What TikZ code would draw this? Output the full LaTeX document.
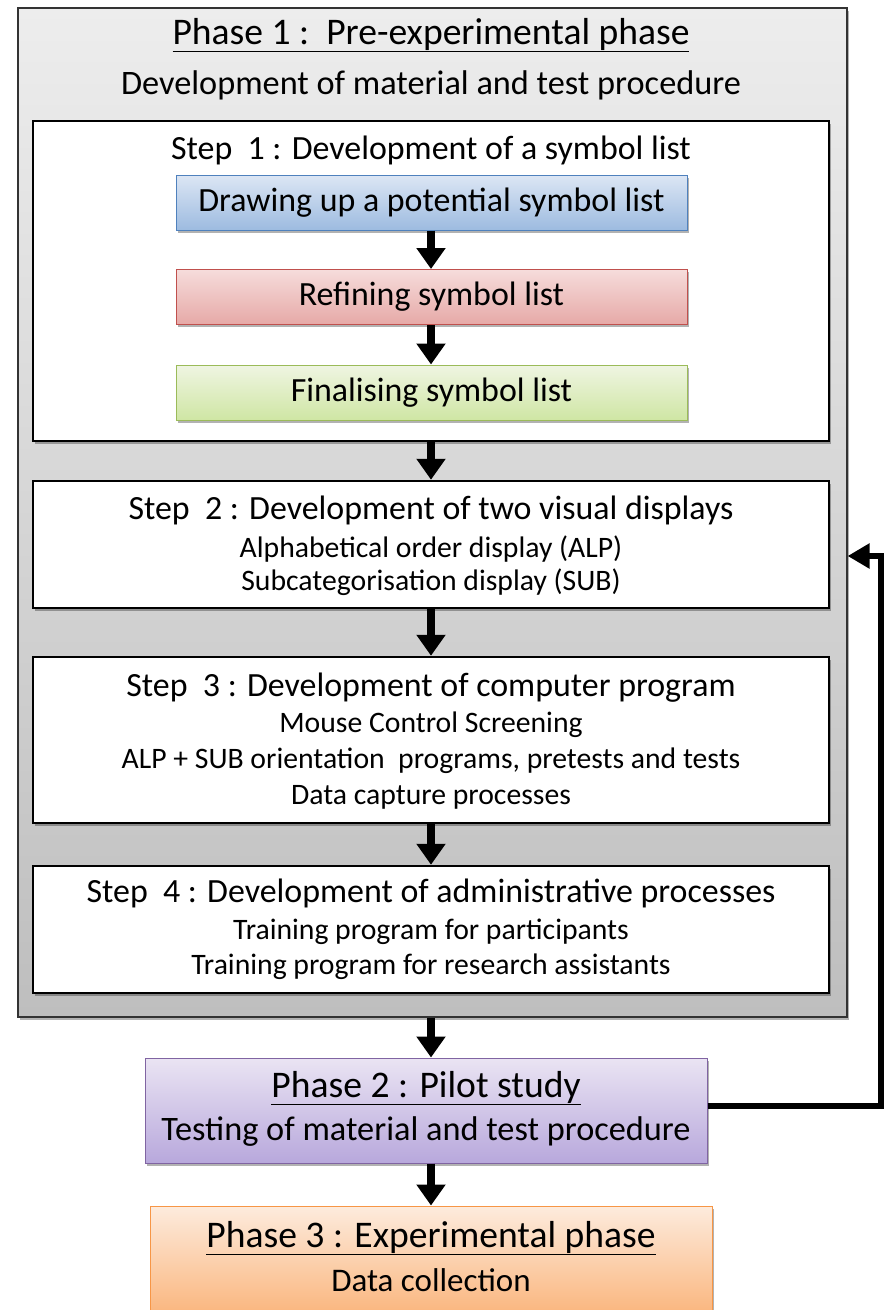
\documentclass[tikz,border=0pt]{standalone}
\usepackage{fontspec}
\setmainfont{Carlito}
\usetikzlibrary{arrows.meta,shadows}
\definecolor{bluetop}{HTML}{DCE6F4}\definecolor{bluebot}{HTML}{9DBBE0}\definecolor{blueline}{HTML}{4F81BD}
\definecolor{redtop}{HTML}{F6DCDB}\definecolor{redbot}{HTML}{E6A9A7}\definecolor{redline}{HTML}{C0504D}
\definecolor{greentop}{HTML}{EFF5E2}\definecolor{greenbot}{HTML}{CFE6A4}\definecolor{greenline}{HTML}{9BBB59}
\definecolor{purptop}{HTML}{EAE4F3}\definecolor{purpbot}{HTML}{B8A8DC}\definecolor{purpline}{HTML}{8064A2}
\definecolor{orgtop}{HTML}{FDEBDD}\definecolor{orgbot}{HTML}{FAB67E}\definecolor{orgline}{HTML}{F79646}
\definecolor{greytop}{HTML}{EDEDED}\definecolor{greybot}{HTML}{BEBEBE}
\tikzset{
  x=1pt,y=-1pt,
  sh/.style={drop shadow={shadow xshift=2pt,shadow yshift=-2.5pt,opacity=0.3,fill=black}},
  outerbox/.style={draw=black!80,line width=1.2pt,top color=greytop,bottom color=greybot,sh,minimum width=829pt,minimum height=1009pt,inner sep=0pt},
  stepbox/.style={draw=black,line width=2.5pt,fill=white,sh,minimum width=796pt,inner sep=0pt},
  colbox/.style={line width=1pt,sh,minimum width=511pt,minimum height=55pt,inner sep=0pt,font=\fontsize{33.9}{38}\selectfont},
  phbox/.style={line width=1pt,sh,minimum width=562pt,minimum height=105pt,inner sep=0pt},
  ttl/.style={inner sep=0pt,font=\fontsize{37.6}{42}\selectfont},
  subttl/.style={inner sep=0pt,font=\fontsize{34.3}{40}\selectfont},
  stt/.style={inner sep=0pt,font=\fontsize{33.9}{38}\selectfont},
  sub/.style={inner sep=0pt,font=\fontsize{29.7}{34}\selectfont},
  arr/.style={line width=7.5pt,-{Triangle[width=28pt,length=21pt]}},
}
\begin{document}
\begin{tikzpicture}
\useasboundingbox (0,0) rectangle (884,1310);
\node[outerbox] (outer) at (432.5,512.5) {};
\node[ttl] (p1t) at (431,35) {\underline{Phase 1 :\ \ Pre-experimental phase}};
\node[subttl] (p1s) at (431,85) {Development of material and test procedure};
% step 1
\node[stepbox,minimum height=320pt] (s1) at (431,281) {};
\node[stt] (s1t) at (431,150) {Step\ \ 1 : Development of a symbol list};
\node[colbox,draw=blueline,top color=bluetop,bottom color=bluebot] (b1) at (431.5,202.5) {Drawing up a potential symbol list};
\node[colbox,draw=redline,top color=redtop,bottom color=redbot] (b2) at (431.5,297) {Refining symbol list};
\node[colbox,draw=greenline,top color=greentop,bottom color=greenbot] (b3) at (431.5,392.5) {Finalising symbol list};
% step 2
\node[stepbox,minimum height=127pt] (s2) at (431,544.5) {};
\node[stt] (s2t) at (431,510) {Step\ \ 2 : Development of two visual displays};
\node[sub] (s2a) at (431,549) {Alphabetical order\ display (ALP)};
\node[sub] (s2b) at (431,582) {Subcategorisation display (SUB)};
% step 3
\node[stepbox,minimum height=166pt] (s3) at (431,740) {};
\node[stt] (s3t) at (431,688) {Step\ \ 3 : Development of computer program};
\node[sub] (s3a) at (431,725) {Mouse Control Screening};
\node[sub] (s3b) at (431,761) {ALP + SUB orientation\ \ programs, pretests\ and tests};
\node[sub] (s3c) at (431,797) {Data capture processes};
% step 4
\node[stepbox,minimum height=127pt] (s4) at (431,929.5) {};
\node[stt] (s4t) at (431,893) {Step\ \ 4 : Development of administrative processes};
\node[sub] (s4a) at (431,932) {Training program for participants};
\node[sub] (s4b) at (431,967) {Training program for research assistants};
% phase 2, 3
\node[phbox,draw=purpline,top color=purptop,bottom color=purpbot] (p2) at (426,1110.5) {};
\node[ttl] (p2t) at (426,1088) {\underline{Phase 2 : Pilot study}};
\node[subttl] (p2s) at (426,1132) {Testing of material and test procedure};
\node[phbox,draw=orgline,top color=orgtop,bottom color=orgbot,minimum height=108pt] (p3) at (431,1260) {};
\node[ttl] (p3t) at (431,1238) {\underline{Phase 3 : Experimental phase}};
\node[subttl,font=\fontsize{33}{38}\selectfont] (p3s) at (431,1280) {Data collection};
% arrows
\draw[arr] (b1.south -| s1.south) -- (b2.north -| s1.south);
\draw[arr] (b2.south -| s1.south) -- (b3.north -| s1.south);
\draw[arr] (s1.south) -- (s2.north);
\draw[arr] (s2.south) -- (s3.north);
\draw[arr] (s3.south) -- (s4.north);
\draw[arr] (outer.south -| s1.south) -- (p2.north -| s1.south);
\draw[arr] (p2.south -| s1.south) -- (p3.north -| s1.south);
% feedback
\coordinate (fbb) at (881,1106);
\coordinate (fbt) at (881,556);
\draw[line width=6pt,-{Triangle[width=24pt,length=22pt]}] (p2.east |- fbb) -- (fbb) -- (fbt) -- (fbt -| outer.east);
\end{tikzpicture}
\end{document}
